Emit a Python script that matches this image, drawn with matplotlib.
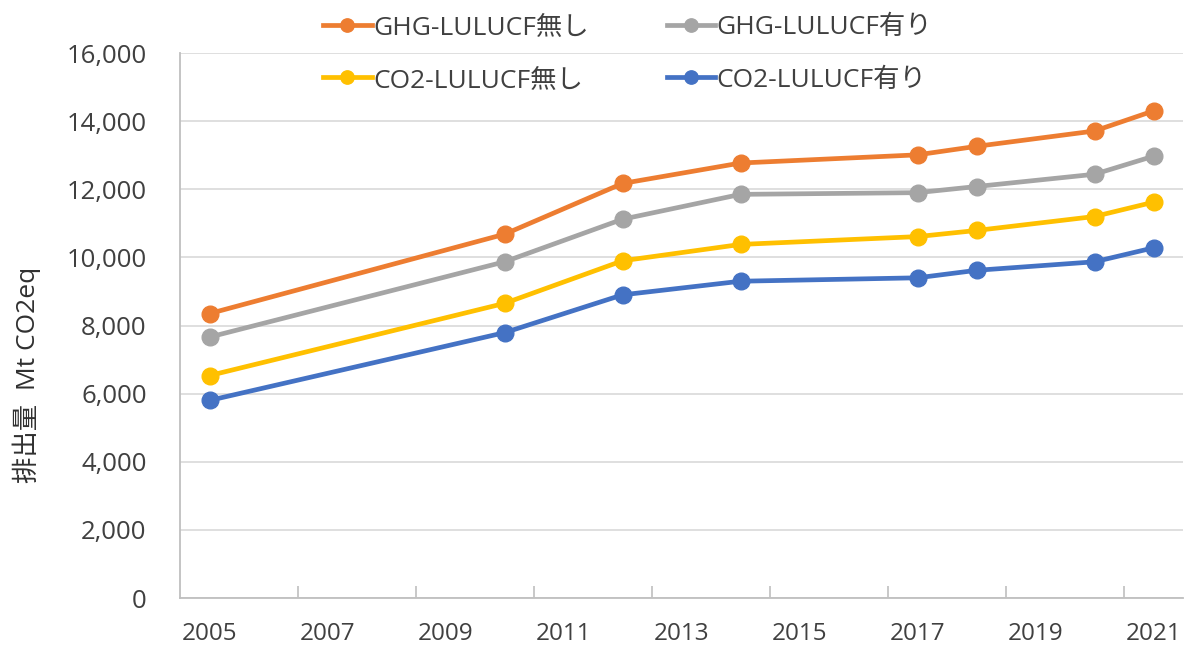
import matplotlib
matplotlib.use("Agg")
import matplotlib.pyplot as plt
from matplotlib.ticker import FuncFormatter, FixedLocator

years = [2005, 2010, 2012, 2014, 2017, 2018, 2020, 2021]
ghg_without = [8350, 10680, 12170, 12770, 13010, 13260, 13710, 14300]
ghg_with = [7660, 9870, 11120, 11850, 11900, 12080, 12440, 12970]
co2_without = [6530, 8650, 9900, 10380, 10610, 10790, 11200, 11620]
co2_with = [5800, 7790, 8900, 9300, 9400, 9620, 9870, 10280]

series_labels = ["GHG-LULUCF無し", "GHG-LULUCF有り", "CO2-LULUCF無し", "CO2-LULUCF有り"]
colors = ["#ED7D31", "#A5A5A5", "#FFC000", "#4472C4"]
xtick_labels = [2005, 2007, 2009, 2011, 2013, 2015, 2017, 2019, 2021]
ytick_values = list(range(0, 16001, 2000))

FONT = ["Open Sans", "Noto Sans CJK JP", "DejaVu Sans"]
plt.rcParams['font.family'] = FONT
TXT = "#404040"

fig = plt.figure(figsize=(11.9, 6.55), dpi=100)
ax = fig.add_axes([180/1190, 1-598/655, (1183-180)/1190, (598-53)/655])

handles = {}
for lab, vals, c in zip(series_labels, [ghg_without, ghg_with, co2_without, co2_with], colors):
    h, = ax.plot(years, vals, color=c, lw=3.4, marker='o', markersize=12,
                 markeredgecolor=c, markerfacecolor=c, zorder=3, label=lab)
    handles[lab] = h

ax.set_xlim(2004.5, 2021.5)
ax.set_ylim(0, 16000)
ax.set_yticks(ytick_values)
ax.yaxis.set_major_formatter(FuncFormatter(lambda v, p: f"{int(v):,}"))
ax.set_xticks(xtick_labels)
ax.set_xticklabels([str(y) for y in xtick_labels])
ax.xaxis.set_minor_locator(FixedLocator([y + 1.5 for y in xtick_labels[:-1]]))

ax.grid(axis='y', color='#d9d9d9', lw=1.2, zorder=0)
ax.set_axisbelow(True)
for s in ['top', 'right']:
    ax.spines[s].set_visible(False)
for s in ['left', 'bottom']:
    ax.spines[s].set_color('#bfbfbf')
    ax.spines[s].set_linewidth(1.3)

ax.tick_params(axis='y', length=0, pad=24, labelsize=18.5, labelcolor=TXT)
ax.tick_params(axis='x', which='major', length=0, pad=17, labelsize=17.5, labelcolor=TXT)
ax.tick_params(axis='x', which='minor', direction='in', length=9, width=1.2, color='#bfbfbf')

fig.text(27/1190, 1-375/655, "排出量  Mt CO2eq", rotation=90, ha='center', va='center',
         fontsize=19, color='#303030', family=FONT)

order = ["GHG-LULUCF無し", "CO2-LULUCF無し", "GHG-LULUCF有り", "CO2-LULUCF有り"]
leg = fig.legend([handles[k] for k in order], order, ncol=2, loc='upper left',
                 bbox_to_anchor=(323/1190, 1-15/655), frameon=False,
                 borderpad=0, borderaxespad=0,
                 fontsize=19, handlelength=1.85, handletextpad=0.05,
                 columnspacing=2.95, labelspacing=1.05, markerscale=0.8)
for t in leg.get_texts():
    t.set_color(TXT)

fig.savefig("out.png", dpi=100)
